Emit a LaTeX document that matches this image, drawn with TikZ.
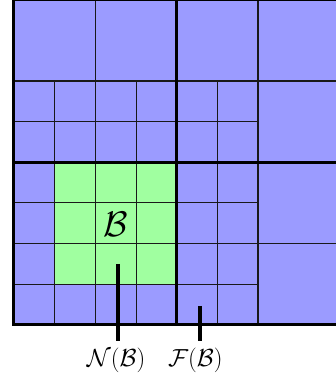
\documentclass[tikz,border=0pt]{standalone}
\usepackage{amsmath}
\definecolor{cellblue}{RGB}{155,155,255}
\definecolor{cellgreen}{RGB}{160,255,160}
\begin{document}
\begin{tikzpicture}[x=1cm,y=1cm,
  thinln/.style={line width=0.7pt,draw=black!90},
  medln/.style={line width=1.1pt,draw=black!90},
  quadln/.style={line width=1.8pt,draw=black},
  borderln/.style={line width=2.1pt,draw=black},
  conn/.style={line width=2.8pt,draw=black},
  lbl/.style={inner sep=0.16cm,font=\fontsize{17}{20}\selectfont},
  bigl/.style={inner sep=0pt,font=\fontsize{23}{27}\selectfont}]
\useasboundingbox (-0.344,-1.328) rectangle (7.917,7.991);
\clip (-0.344,-1.328) rectangle (7.917,7.991);
% fills
\fill[cellblue] (0,0) rectangle (8,8);
\fill[cellgreen] (1,1) rectangle (4,4);
% unit cells
\foreach \x in {0,...,5} \foreach \y in {0,...,5}
  \draw[thinln] (\x,\y) rectangle ++(1,1);
% 2x2 blocks
\foreach \x in {0,2,4,6} \foreach \y in {0,2,4,6}
  \draw[medln] (\x,\y) rectangle ++(2,2);
% quadrants
\foreach \x in {0,4} \foreach \y in {0,4}
  \draw[quadln] (\x,\y) rectangle ++(4,4);
% border
\draw[borderln] (0,0) rectangle (8,8);
% labels
\node[bigl] (B) at (2.5,2.48) {$\mathcal{B}$};
\node[lbl,anchor=base] (N) at (2.51,-1.02) {$\mathcal{N}(\mathcal{B})$};
\node[lbl,anchor=base] (F) at (4.46,-1.02) {$\mathcal{F}(\mathcal{B})$};
\coordinate (pn) at (2.55,1.5);
\coordinate (pf) at (4.57,0.47);
\draw[conn] (pn) -- (pn |- N.north);
\draw[conn] (pf) -- (pf |- F.north);
\end{tikzpicture}
\end{document}
